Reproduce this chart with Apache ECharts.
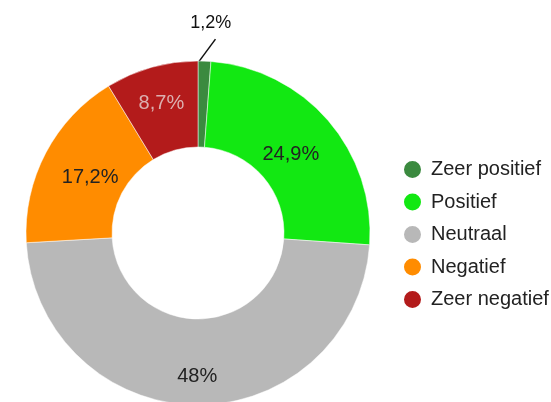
<!DOCTYPE html>
<html><head><meta charset="utf-8">
<script src="https://cdn.jsdelivr.net/npm/echarts@6/dist/echarts.min.js"></script>
<style>html,body{margin:0;padding:0;background:#fff;}#c{width:551px;height:402px;}</style>
</head><body><div id="c"></div>
<script>
const categories = ['Zeer positief', 'Positief', 'Neutraal', 'Negatief', 'Zeer negatief'];
const values = [1.2, 24.9, 48, 17.2, 8.7];
const labels = ['1,2%', '24,9%', '48%', '17,2%', '8,7%'];
const colors = ['#3b8a3f', '#12e812', '#b8b8b8', '#ff8c00', '#b31b1b'];

const chart = echarts.init(document.getElementById('c'), null, {renderer: 'canvas'});
const data = categories.map((n, i) => {
  const d = {name: n, value: values[i], itemStyle: {color: colors[i]}};
  if (i === 0) {
    d.label = {position: 'outside', color: '#111', fontSize: 18};
    d.labelLine = {show: true, length: 18, length2: 0, lineStyle: {color: '#111', width: 1.5}};
  }
  if (i === 4) d.label = {color: '#dcb0b0'};
  return d;
});
// per-label nudges (dx, dy)
const nudges = [[-20, -20], [-7, 8], [0, 11], [9, 6], [-1, -2]];
chart.setOption({
  animation: false,
  legend: {
    orient: 'vertical', left: 402, top: 159, padding: 0,
    icon: 'circle', itemWidth: 19, itemHeight: 19, itemGap: 11.5,
    textStyle: {fontSize: 20, color: '#222', fontFamily: 'Liberation Sans, Arial', padding: [0, 0, 0, 4]},
    data: categories
  },
  series: [{
    type: 'pie',
    center: [198, 233],
    radius: [86, 172],
    startAngle: 90,
    clockwise: true,
    avoidLabelOverlap: false,
    itemStyle: {borderColor: '#fff', borderWidth: 0.5},
    label: {
      show: true, position: 'inside', fontSize: 20, color: '#222',
      fontFamily: 'Liberation Sans, Arial',
      formatter: p => labels[p.dataIndex]
    },
    labelLayout: function (p) {
      const n = nudges[p.dataIndex];
      const out = {dx: n[0], dy: n[1]};
      if (p.dataIndex === 0 && p.labelLinePoints) {
        const pts = p.labelLinePoints;
        const s = pts[0];
        const e = [s[0] + 11, s[1] - 22];
        out.labelLinePoints = [[s[0] - 6, s[1] + 1], e, e];
      }
      return out;
    },
    data: data
  }]
});
</script></body></html>
